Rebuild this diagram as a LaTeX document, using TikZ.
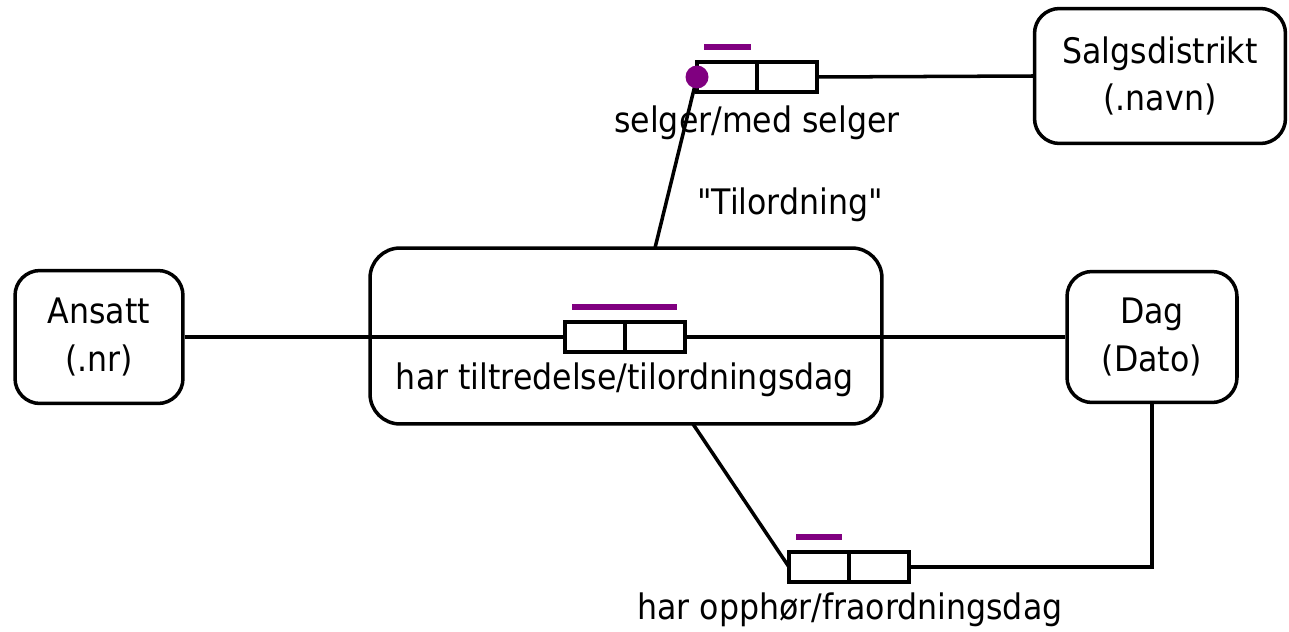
\documentclass[tikz,border=0pt]{standalone}
\usepackage{fontspec}
\setmainfont{DejaVu Sans Condensed}[Ligatures=TeXOff]
\usetikzlibrary{positioning}
\definecolor{lilla}{RGB}{128,0,128}
\tikzset{
	ent/.style={draw, line width=2pt, rounded corners=0.5cm, align=center},
	rolle/.style={draw, line width=2pt, minimum width=1.2cm, minimum height=0.6cm, inner sep=0pt, outer sep=0pt},
	unik/.style={lilla, line width=3pt},
	forb/.style={line width=2pt},
}

\begin{document}
\begin{tikzpicture}[x=0.02cm,y=-0.02cm,font=\fontsize{20}{27}\selectfont]
		\useasboundingbox (0,0) rectangle (1289,632);
		% objekttyper
		\node[ent, minimum width=3.36cm, minimum height=2.66cm] (ansatt) at (99,337) {Ansatt\\(.nr)};
		\node[ent, minimum width=3.4cm, minimum height=2.62cm] (dag) at (1152,337) {Dag\\(Dato)};
		\node[ent, minimum width=5.02cm, minimum height=2.7cm] (salg) at (1160,76) {Salgsdistrikt\\(.navn)};
		\node[ent, rounded corners=0.6cm, minimum width=10.24cm, minimum height=3.52cm] (tilordning) at (626,336) {};
		\node (tilnavn) at (790,205) {"Tilordning"};
		% roller
		\node[rolle] (tilA) at (595,337) {};
		\node[rolle, right=0pt of tilA] (tilB) {};
		\node (tillbl) at (625,380) {har tiltredelse/tilordningsdag};
		\node[rolle] (selA) at (727,77) {};
		\node[rolle, right=0pt of selA] (selB) {};
		\node (sellbl) at (757,123) {selger/med selger};
		\node[rolle] (oppA) at (819,567) {};
		\node[rolle, right=0pt of oppA] (oppB) {};
		\node (opplbl) at (850,610) {har opphør/fraordningsdag};
		% unikhet
		\draw[unik] ([shift={(7,-15)}]tilA.north west) -- ([shift={(-8,-15)}]tilB.north east);
		\draw[unik] ([shift={(7,-15)}]selA.north west) -- ([shift={(-6,-15)}]selA.north east);
		\draw[unik] ([shift={(7,-15)}]oppA.north west) -- ([shift={(-7,-15)}]oppA.north east);
		% forbindelser
		\coordinate (tiltopp) at (655,248);
		\coordinate (tilbunn) at (693,424);
		\draw[forb] (ansatt.east) -- (tilA.west);
		\draw[forb] (tilB.east) -- (dag.west);
		\draw[forb] (selB.east) -- (salg.west);
		\draw[forb] (tiltopp) -- (selA.west);
		\draw[forb] (tilbunn) -- (oppA.west);
		\draw[forb] (oppB.east) -| (dag.south);
		\node[circle, fill=lilla, inner sep=0pt, minimum size=0.46cm] (prikk) at (selA.west) {};
		\end{tikzpicture}
\end{document}
